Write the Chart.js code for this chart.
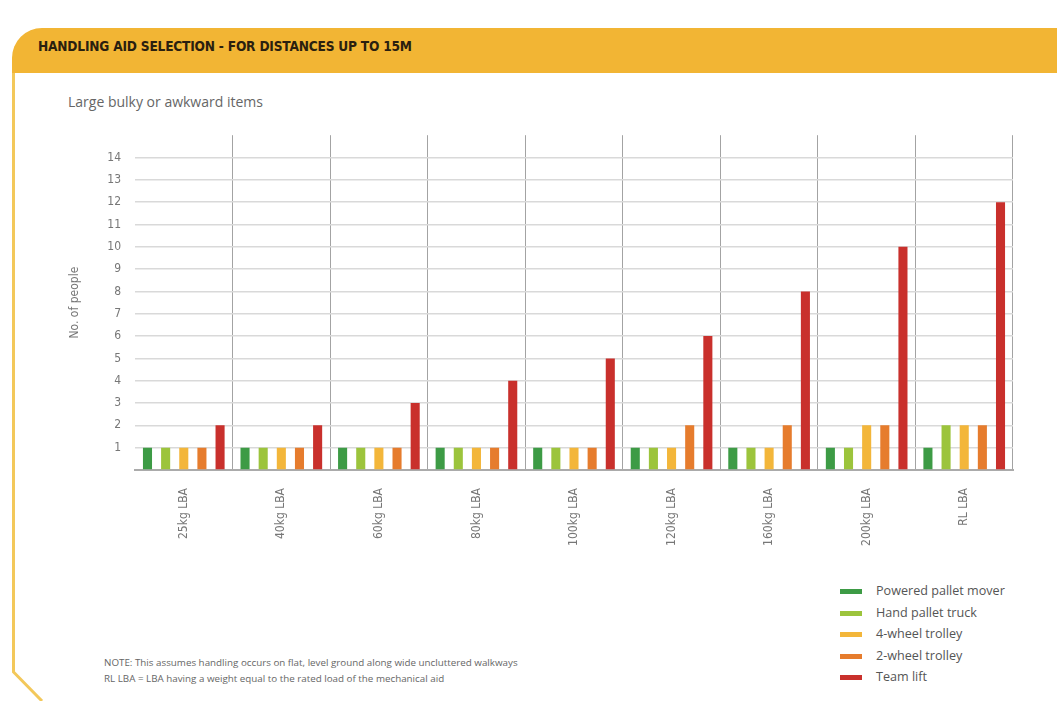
<!DOCTYPE html>
<html>
<head>
<meta charset="utf-8">
<script src="https://cdn.jsdelivr.net/npm/chart.js@4"></script>
<style>
  body { margin: 0; width: 1057px; height: 701px; background: #fff; position: relative; overflow: hidden; font-family: "Open Sans", "Liberation Sans", sans-serif; }
  #header { position: absolute; left: 12px; top: 28px; right: 0; height: 45px; background: #f2b534; border-top-left-radius: 30px; }
  #header span { position: absolute; left: 26px; top: 10px; font: bold 13.6px "DejaVu Sans Condensed", "DejaVu Sans", sans-serif; color: #2a200f; letter-spacing: -0.2px; }
  #frame { position: absolute; left: 0; top: 0; }
  #subtitle { position: absolute; left: 68px; top: 92px; font-size: 14px; color: #666; }
  #wrap { position: absolute; left: 0; top: 114px; width: 1057px; height: 446px; }
  #legend { position: absolute; left: 840px; top: 580px; font-size: 12.6px; color: #555; }
  #legend div { height: 21.5px; line-height: 21.5px; white-space: nowrap; }
  #legend i { display: inline-block; width: 22px; height: 5px; margin-right: 14px; vertical-align: middle; }
  #note { position: absolute; left: 104px; top: 655px; font-size: 9.8px; line-height: 16px; color: #666; }
</style>
</head>
<body>
<svg id="frame" width="1057" height="701">
  <polyline points="13.5,60 13.5,672 42,701" fill="none" stroke="#f3c85a" stroke-width="3"/>
</svg>
<div id="header"><span>HANDLING AID SELECTION - FOR DISTANCES UP TO 15M</span></div>
<div id="subtitle">Large bulky or awkward items</div>
<div id="wrap"><canvas id="myChart"></canvas></div>
<div id="legend"></div>
<div id="note">NOTE: This assumes handling occurs on flat, level ground along wide uncluttered walkways<br>RL LBA = LBA having a weight equal to the rated load of the mechanical aid</div>
<script>
// loads (categories)
var loads = ['25kg LBA', '40kg LBA', '60kg LBA', '80kg LBA', '100kg LBA', '120kg LBA', '160kg LBA', '200kg LBA', 'RL LBA'];

// number of people needed per handling aid
var poweredPalletMover = [1, 1, 1, 1, 1, 1, 1, 1, 1];
var handPalletTruck    = [1, 1, 1, 1, 1, 1, 1, 1, 2];
var fourWheelTrolley   = [1, 1, 1, 1, 1, 1, 1, 2, 2];
var twoWheelTrolley    = [1, 1, 1, 1, 1, 2, 2, 2, 2];
var teamLift           = [2, 2, 3, 4, 5, 6, 8, 10, 12];

var seriesNames = ['Powered pallet mover', 'Hand pallet truck', '4-wheel trolley', '2-wheel trolley', 'Team lift'];
var seriesColors = ['#3d9b45', '#9cc43c', '#f3b63a', '#e67c2d', '#c9302c'];
var seriesData = [poweredPalletMover, handPalletTruck, fourWheelTrolley, twoWheelTrolley, teamLift];

var yTicks = [1, 2, 3, 4, 5, 6, 7, 8, 9, 10, 11, 12, 13, 14];

var datasets = [];
for (var i = 0; i < seriesNames.length; i++) {
    datasets.push({
        label: seriesNames[i],
        data: seriesData[i],
        backgroundColor: seriesColors[i],
        barPercentage: 0.5,
        categoryPercentage: 0.93
    });
}

// legend on the side
var legendHtml = '';
for (var i = 0; i < seriesNames.length; i++) {
    legendHtml += '<div><i style="background:' + seriesColors[i] + '"></i>' + seriesNames[i] + '</div>';
}
document.getElementById('legend').innerHTML = legendHtml;

var ctx = document.getElementById('myChart').getContext('2d');
var chart = new Chart(ctx, {
    type: 'bar',
    data: { labels: loads, datasets: datasets },
    options: {
        responsive: true,
        maintainAspectRatio: false,
        animation: false,
        layout: { padding: { left: 60, top: 10, right: 44, bottom: 0 } },
        plugins: { legend: { display: false }, tooltip: { enabled: false } },
        scales: {
            x: {
                afterFit: function(scale) { scale.height = 90; },
                grid: {
                    drawTicks: false,
                    color: function(c) { return c.index === 0 ? 'rgba(0,0,0,0)' : '#a3a3a3'; },
                    lineWidth: 1
                },
                border: { color: '#ababab', width: 2 },
                ticks: {
                    minRotation: 90, maxRotation: 90, padding: 18,
                    color: '#777',
                    font: { family: '"DejaVu Sans Condensed", "DejaVu Sans", sans-serif', size: 12 }
                }
            },
            y: {
                min: 0, max: 15,
                afterFit: function(scale) { scale.width = 75; },
                afterBuildTicks: function(scale) {
                    scale.ticks = [0].concat(yTicks, [15]).map(function(v) { return { value: v }; });
                },
                border: { display: false },
                grid: {
                    drawTicks: false,
                    color: function(c) {
                        var v = c.tick ? c.tick.value : 0;
                        return (v === 0 || v === 15) ? 'rgba(0,0,0,0)' : '#d9d9d9';
                    },
                    lineWidth: 1.5
                },
                ticks: {
                    padding: 14,
                    color: '#777',
                    font: { family: '"DejaVu Sans Condensed", "DejaVu Sans", sans-serif', size: 12 },
                    callback: function(v) { return yTicks.indexOf(v) >= 0 ? v : ''; }
                },
                title: {
                    display: true,
                    text: 'No. of people',
                    color: '#777',
                    padding: { top: 8, bottom: 0 },
                    font: { family: '"DejaVu Sans Condensed", "DejaVu Sans", sans-serif', size: 12 }
                }
            }
        }
    }
});
</script>
</body>
</html>
